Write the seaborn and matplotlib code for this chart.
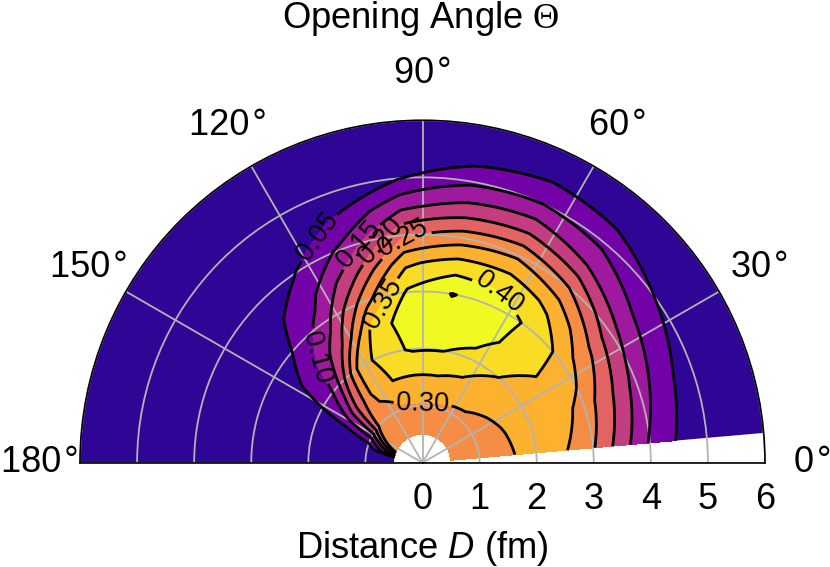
import numpy as np
import matplotlib
matplotlib.use("Agg")
import matplotlib.pyplot as plt
from matplotlib.transforms import ScaledTranslation
import seaborn as sns

# distance (fm) and opening angle (deg) of the grid nodes
distance = [0.5, 1.0, 1.5, 2.0, 2.5, 3.0, 3.5, 4.0, 4.5, 5.0, 5.5, 6.0]
angle = [5, 20, 35, 50, 65, 80, 95, 110, 125, 140, 155, 165, 170, 180]

# one row per opening angle
row_005 = [.270, .280, .295, .315, .305, .255, .175, .095, .045, .010, .005, .000]
row_020 = [.270, .285, .298, .325, .330, .280, .208, .128, .065, .020, .005, .000]
row_035 = [.270, .285, .305, .335, .345, .330, .260, .170, .100, .048, .010, .000]
row_050 = [.270, .290, .320, .352, .380, .385, .340, .250, .150, .085, .030, .000]
row_065 = [.265, .290, .335, .385, .420, .432, .375, .290, .185, .100, .040, .000]
row_080 = [.265, .295, .345, .402, .430, .452, .375, .275, .170, .090, .018, .000]
row_095 = [.260, .295, .345, .405, .430, .408, .340, .240, .138, .047, .010, .000]
row_110 = [.260, .290, .348, .385, .370, .275, .190, .115, .055, .020, .005, .000]
row_125 = [.265, .275, .315, .300, .190, .125, .080, .045, .020, .008, .000, .000]
row_140 = [.280, .250, .200, .110, .080, .048, .030, .015, .008, .000, .000, .000]
row_155 = [.290, .090, .045, .030, .020, .010, .005, .000, .000, .000, .000, .000]
row_165 = [.180, .010, .005, .000, .000, .000, .000, .000, .000, .000, .000, .000]
row_170 = [.020, .005, .000, .000, .000, .000, .000, .000, .000, .000, .000, .000]
row_180 = [.000, .000, .000, .000, .000, .000, .000, .000, .000, .000, .000, .000]

levels = [0.05, 0.10, 0.15, 0.20, 0.25, 0.30, 0.35, 0.40, 0.45]
label_levels = [0.05, 0.10, 0.15, 0.20, 0.25, 0.30, 0.35, 0.40]
# where each contour label sits: opening angle (deg), distance (fm)
label_angle = [115.5, 136, 106, 100, 95, 90, 105.6, 65.8]
label_dist = [4.45, 2.65, 3.96, 3.9, 3.95, 1.07, 2.96, 3.18]

sns.set_theme(style="white")
plt.rcParams["font.family"] = ["Liberation Sans", "DejaVu Sans"]
plt.rcParams["text.color"] = "black"
plt.rcParams["xtick.color"] = "black"
plt.rcParams["ytick.color"] = "black"
plt.rcParams["mathtext.fontset"] = "custom"
plt.rcParams["mathtext.rm"] = "Liberation Sans"
plt.rcParams["mathtext.it"] = "Liberation Sans:italic"
plt.rcParams["mathtext.cal"] = "Liberation Serif"

plasma = sns.color_palette("plasma", as_cmap=True)
band_colors = [plasma(v) for v in [0.22, 0.34, 0.47, 0.60, 0.73, 0.83, 0.93, 1.0, 1.0]]
base_color = plasma(0.06)

grid = np.array([row_005, row_020, row_035, row_050, row_065, row_080, row_095,
                 row_110, row_125, row_140, row_155, row_165, row_170, row_180])
theta = np.radians(angle)

fig = plt.figure(figsize=(8.3, 5.67), dpi=100)
# the half disc is centred in a square axes box
ax = fig.add_axes([80 / 830, 1 - 634 / 567, 685 / 830, 685 / 567], projection="polar")
ax.set_thetamin(0)
ax.set_thetamax(180)
ax.set_rorigin(0)
ax.set_rlim(0, 6)

# dark band underneath, so the outer edge stays a true arc
ax.bar(np.radians(92.5), 5.5, width=np.radians(175), bottom=0.5, color=base_color, linewidth=0, zorder=1)
filled = ax.contourf(theta, distance, grid.T, levels=levels + [1.0], colors=band_colors, zorder=2)
for p in filled.get_paths():
    p._interpolation_steps = 16  # bend the edges along the polar grid

# every level gets its own contour call so that its label can be placed by hand
for lev in levels:
    cs = ax.contour(theta, distance, grid.T, levels=[lev], colors="black", linewidths=2, zorder=3)
    if lev in label_levels:
        i = label_levels.index(lev)
        ax.clabel(cs, [lev], manual=[(np.radians(label_angle[i]), label_dist[i])], fmt="%.2f",
                  fontsize=19.5, inline=True, inline_spacing=3)
    for p in cs.get_paths():
        p._interpolation_steps = 16

ax.set_axisbelow(False)
ax.grid(True, color="#b3b3b3", linewidth=1.3, zorder=4)
ax.set_thetagrids(range(0, 181, 30), [f"{t}\u200a°" for t in range(0, 181, 30)])
ax.set_rgrids(range(0, 7), [str(i) for i in range(0, 7)])
ax.tick_params(axis="x", pad=27, length=0, labelsize=26)
ax.tick_params(axis="y", pad=14, length=0, labelsize=26)
for s in ax.spines.values():
    s.set_color("black")
    s.set_linewidth(1.2)
    s.set_zorder(5)

# the two left labels sit a little closer to the arc
for k, shift in [(5, 4), (6, 7)]:
    lab = ax.xaxis.get_major_ticks()[k].label1
    lab.set_transform(lab.get_transform() + ScaledTranslation(shift / 100, 0, fig.dpi_scale_trans))

fig.text(421 / 830, 1 - 28 / 567, "Opening Angle $\\mathcal{\\Theta}$", ha="center", va="baseline", fontsize=26.2)
fig.text(422 / 830, 1 - 557.5 / 567, "Distance $D$ (fm)", ha="center", va="baseline", fontsize=26.2)

fig.savefig("out.png", dpi=100)
